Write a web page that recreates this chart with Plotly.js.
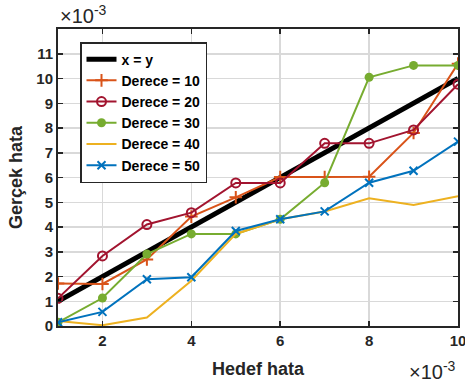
<!DOCTYPE html>
<html>
<head>
<meta charset="utf-8">
<script src="https://cdn.plot.ly/plotly-3.0.1.min.js"></script>
<style>html,body{margin:0;padding:0;background:#fff}#chart{width:465px;height:383px}</style>
</head>
<body>
<div id="chart"></div>
<script>
// values in units of 1e-3
const hedef = [1, 2, 3, 4, 5, 6, 7, 8, 9, 10];
const xy = [1, 2, 3, 4, 5, 6, 7, 8, 9, 10];
const derece10 = [1.72, 1.70, 2.69, 4.42, 5.20, 6.02, 6.02, 6.03, 7.8, 10.6];
const derece20 = [1.12, 2.83, 4.10, 4.58, 5.78, 5.78, 7.38, 7.38, 7.92, 9.77];
const derece30 = [0.15, 1.13, 2.91, 3.72, 3.72, 4.31, 5.79, 10.05, 10.53, 10.53];
const derece40 = [0.20, 0.03, 0.34, 1.83, 3.72, 4.31, 4.63, 5.16, 4.89, 5.24];
const derece50 = [0.15, 0.57, 1.89, 1.97, 3.84, 4.31, 4.63, 5.79, 6.27, 7.45];
const names = ['x = y', 'Derece = 10', 'Derece = 20', 'Derece = 30', 'Derece = 40', 'Derece = 50'];
const xTicks = [2, 4, 6, 8, 10];
const yTicks = [0, 1, 2, 3, 4, 5, 6, 7, 8, 9, 10, 11];

const FONT = 'Liberation Sans, Arial, sans-serif';

const traces = [
  {x: hedef, y: xy, name: names[0], mode: 'lines', line: {color: '#000000', width: 5}},
  {x: hedef, y: derece10, name: names[1], mode: 'lines+markers', line: {color: '#D95319', width: 2},
   marker: {symbol: 'cross-thin-open', size: 9, color: '#D95319', line: {color: '#D95319', width: 2}}},
  {x: hedef, y: derece20, name: names[2], mode: 'lines+markers', line: {color: '#A2142F', width: 2},
   marker: {symbol: 'circle-open', size: 9, color: '#A2142F', line: {color: '#A2142F', width: 2}}},
  {x: hedef, y: derece30, name: names[3], mode: 'lines+markers', line: {color: '#77AC30', width: 2},
   marker: {symbol: 'circle', size: 9, color: '#77AC30'}},
  {x: hedef, y: derece40, name: names[4], mode: 'lines', line: {color: '#EDB120', width: 2}},
  {x: hedef, y: derece50, name: names[5], mode: 'lines+markers', line: {color: '#0072BD', width: 2},
   marker: {symbol: 'x-thin-open', size: 8, color: '#0072BD', line: {color: '#0072BD', width: 2}}}
];

const axisCommon = {
  showline: true, linecolor: '#262626', linewidth: 2, mirror: 'ticks',
  ticks: 'inside', ticklen: 5, tickwidth: 1.5, tickcolor: '#262626',
  showgrid: true, gridcolor: '#d9d9d9', gridwidth: 1.5, zeroline: false,
  ticklabeloverflow: 'allow',
  tickfont: {family: FONT, size: 15, color: '#262626', weight: 'bold'}
};

const layout = {
  width: 465, height: 383,
  margin: {l: 58, r: 7, t: 29, b: 57},
  paper_bgcolor: '#ffffff', plot_bgcolor: '#ffffff',
  showlegend: true,
  xaxis: Object.assign({}, axisCommon, {
    range: [0.9999, 10.0001], tickvals: xTicks, ticktext: xTicks.map(String),
    title: {text: 'Hedef hata', standoff: 14, font: {family: FONT, size: 18, color: '#262626', weight: 'bold'}}
  }),
  yaxis: Object.assign({}, axisCommon, {
    range: [0, 12], tickvals: yTicks, ticktext: yTicks.map(String),
    title: {text: 'Gerçek hata', standoff: 9, font: {family: FONT, size: 18, color: '#262626', weight: 'bold'}}
  }),
  legend: {
    x: 0.055, y: 0.956, xanchor: 'left', yanchor: 'top',
    bgcolor: '#ffffff', bordercolor: '#262626', borderwidth: 1.5,
    font: {family: FONT, size: 14, color: '#000000', weight: 'bold'},
    itemwidth: 30, tracegroupgap: 0
  },
  annotations: [
    {xref: 'paper', yref: 'paper', x: 0, y: 1, xanchor: 'left', yanchor: 'bottom', yshift: 0,
     text: '×10<sup>-3</sup>', showarrow: false,
     font: {family: FONT, size: 20, color: '#262626'}},
    {xref: 'paper', yref: 'paper', x: 1, y: 0, xanchor: 'right', yanchor: 'top', yshift: -30,
     text: '×10<sup>-3</sup>', showarrow: false,
     font: {family: FONT, size: 20, color: '#262626'}}
  ]
};

Plotly.newPlot('chart', traces, layout, {displayModeBar: false, staticPlot: true});
</script>
</body>
</html>
